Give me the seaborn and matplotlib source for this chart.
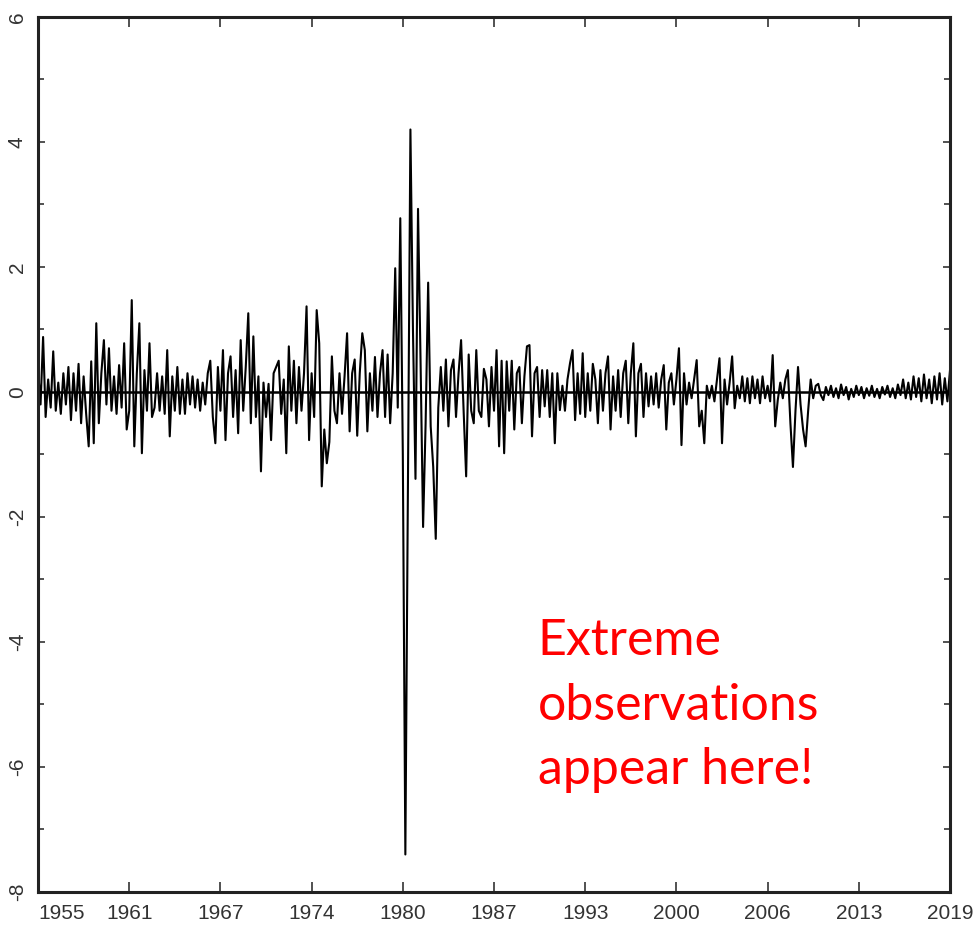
import numpy as np
import pandas as pd
import seaborn as sns
import matplotlib
matplotlib.use("Agg")
import matplotlib.pyplot as plt

# x tick labels (equally spaced)
tick_labels = ["1955", "1961", "1967", "1974", "1980", "1987",
               "1993", "2000", "2006", "2013", "2019"]
y_ticks = [-8, -6, -4, -2, 0, 2, 4, 6]

# series values, one list per interval between consecutive x ticks
seg0 = [0.35, -0.2, 0.88, -0.4, 0.2, -0.25, 0.65, -0.3, 0.15, -0.35, 0.3, -0.2,
        0.4, -0.45, 0.3, -0.3, 0.45, -0.5, 0.25, -0.35, -0.87, 0.49, -0.82, 1.1,
        -0.5, 0.3, 0.83, -0.2, 0.7, -0.3, 0.25, -0.35, 0.43, -0.25, 0.78, -0.6]
seg1 = [-0.3, 1.47, -0.87, 0.3, 1.1, -0.98, 0.35, -0.3, 0.78, -0.4, -0.25, 0.3,
        -0.3, 0.25, -0.35, 0.67, -0.71, 0.25, -0.3, 0.4, -0.35, 0.2, -0.35, 0.3,
        -0.2, 0.25, -0.25, 0.2, -0.3, 0.15, -0.2, 0.3, 0.5, -0.4, -0.82, 0.4]
seg2 = [-0.3, 0.67, -0.77, 0.3, 0.57, -0.4, 0.35, -0.66, 0.83, -0.3, 0.4, 1.26,
        -0.5, 0.89, -0.4, 0.25, -1.27, 0.15, -0.4, 0.13, -0.77, 0.3, 0.4, 0.5,
        -0.35, 0.2, -0.98, 0.73, -0.3, 0.5, -0.5, 0.4, -0.3, 0.3, 1.37, -0.77]
seg3 = [0.3, -0.4, 1.31, 0.78, -1.51, -0.6, -1.14, -0.8, 0.57, -0.3, -0.5, 0.3,
        -0.35, 0.25, 0.94, -0.63, 0.3, 0.52, -0.7, 0.3, 0.94, 0.67, -0.63, 0.3,
        -0.3, 0.56, -0.4, 0.3, 0.67, -0.4, 0.6, -0.5, 0.3, 1.98, -0.25, 2.78]
seg4 = [-1.0, -7.4, -1.5, 4.2, 1.0, -1.39, 2.93, 0.5, -2.16, -0.5, 1.75, -0.55,
        -1.2, -2.35, -0.25, 0.4, -0.3, 0.52, -0.55, 0.35, 0.52, -0.4, 0.3, 0.83,
        -0.3, -1.35, 0.6, -0.3, -0.5, 0.67, -0.3, -0.4, 0.37, 0.2, -0.55, 0.4]
seg5 = [-0.3, 0.67, -0.87, 0.5, -0.98, 0.49, -0.3, 0.5, -0.6, 0.3, 0.4, -0.5,
        0.25, 0.73, 0.75, -0.71, 0.3, 0.4, -0.4, 0.35, -0.23, 0.35, -0.4, 0.3,
        -0.82, 0.3, -0.29, 0.1, -0.3, 0.2, 0.46, 0.67, -0.45, 0.3, -0.35, 0.62]
seg6 = [-0.4, 0.3, -0.3, 0.45, 0.2, -0.5, 0.35, -0.3, 0.3, 0.57, -0.6, 0.25,
        -0.3, 0.35, -0.4, 0.3, 0.5, -0.5, 0.3, 0.78, -0.71, 0.3, 0.45, -0.4,
        0.3, -0.23, 0.25, -0.2, 0.3, -0.25, 0.2, 0.43, -0.6, 0.15, 0.3, -0.2]
seg7 = [0.2, 0.7, -0.85, 0.3, -0.2, 0.15, -0.1, 0.2, 0.51, -0.55, -0.3, -0.82,
        0.1, -0.1, 0.1, -0.15, 0.2, 0.54, -0.82, 0.2, -0.2, 0.15, 0.57, -0.26,
        0.1, -0.1, 0.25, -0.15, 0.22, -0.18, 0.25, -0.1, 0.2, -0.18, 0.25, -0.1]
seg8 = [0.1, -0.15, 0.59, -0.55, -0.13, 0.15, -0.1, 0.2, 0.35, -0.5, -1.2, -0.3,
        0.4, -0.2, -0.6, -0.87, -0.3, 0.2, -0.1, 0.1, 0.13, -0.05, -0.13, 0.08,
        -0.05, 0.1, -0.08, 0.06, -0.1, 0.12, -0.05, 0.08, -0.12, 0.05, -0.08, 0.1]
seg9 = [-0.05, 0.08, -0.1, 0.06, -0.06, 0.1, -0.08, 0.05, -0.1, 0.08, -0.04, 0.1,
        -0.08, 0.06, -0.1, 0.12, -0.05, 0.2, -0.1, 0.15, -0.12, 0.25, -0.08, 0.22,
        -0.15, 0.28, -0.1, 0.2, -0.18, 0.25, -0.12, 0.3, -0.2, 0.22, -0.15, 0.35]
segments = [seg0, seg1, seg2, seg3, seg4, seg5, seg6, seg7, seg8, seg9]

xs, ys = [], []
for k, seg in enumerate(segments):
    last = (k == len(segments) - 1)
    pos = np.linspace(k, k + 1, len(seg), endpoint=last)
    xs.extend(pos)
    ys.extend(seg)
df = pd.DataFrame({"t": xs, "value": ys})

sns.set_style("white")
plt.rcParams["font.family"] = ["Liberation Sans", "DejaVu Sans"]

fig = plt.figure(figsize=(9.8, 9.34), dpi=100)
ax = fig.add_axes([0.0388, 0.045, 0.9306, 0.9368])

sns.lineplot(data=df, x="t", y="value", color="black", linewidth=1.5,
             estimator=None, sort=False, ax=ax)
ax.axhline(0, color="black", linewidth=1.8, zorder=1)

ax.set_xlim(0, len(segments))
ax.set_ylim(-8, 6)
ax.set_xticks(range(len(tick_labels)))
ax.set_xticklabels(tick_labels)
ax.set_yticks(y_ticks)
ax.set_yticklabels([str(v) for v in y_ticks], rotation=90, va="center")
ax.set_yticks(range(-8, 7), minor=True)
ax.set_xlabel("")
ax.set_ylabel("")

for s in ax.spines.values():
    s.set_color("#222222")
    s.set_linewidth(2.2)
    s.set_visible(True)

ax.tick_params(axis="both", which="both", direction="in", colors="#333333",
               labelcolor="#333333", labelsize=15, top=True, right=True,
               left=True, bottom=True, width=1.2)
ax.tick_params(axis="x", which="major", length=7, pad=9)
ax.tick_params(axis="y", which="major", length=5, pad=8)
ax.tick_params(axis="y", which="minor", length=4)
labels = ax.get_xticklabels()
labels[0].set_horizontalalignment("left")

ax.text(0.548, 0.313, "Extreme\nobservations\nappear here!", transform=ax.transAxes,
        color="#ff0000", fontsize=36, family=["Lato", "DejaVu Sans"],
        ha="left", va="top", linespacing=1.5)

fig.savefig("out.png", dpi=100)
